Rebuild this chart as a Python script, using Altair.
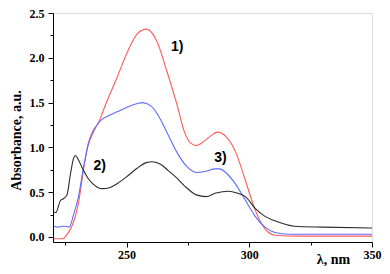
import altair as alt
import pandas as pd

# --- data ---
red_wl = [220.4, 222, 224, 225.5, 227.7, 229, 230.4, 232.4, 234.4, 236.4, 238.4, 241.6, 246.4,
          250.4, 254.4, 258, 262.4, 266.4, 270.4, 273.6, 276, 278.4, 283, 287, 290.5, 294.4,
          298.4, 302.4, 306.4, 310.4, 320, 350]
red_ab = [-0.02, -0.02, -0.02, 0.02, 0.12, 0.22, 0.38, 0.75, 1.05, 1.19, 1.27, 1.49, 1.80,
          2.07, 2.27, 2.32, 2.18, 1.85, 1.49, 1.17, 1.05, 1.02, 1.10, 1.17, 1.12, 0.95,
          0.63, 0.30, 0.09, 0.02, 0.01, 0.01]

blue_wl = [220.4, 222, 224, 225.5, 226.6, 228.4, 230.4, 232.4, 234.4, 236.4, 238.4, 242.4, 246.4,
           250.4, 254.4, 256.4, 260, 263, 266.4, 270.4, 274.4, 278.4, 282, 286, 288, 290.4,
           294.4, 298.4, 302.4, 306.4, 310.4, 316, 350]
blue_ab = [0.12, 0.11, 0.12, 0.12, 0.11, 0.25, 0.45, 0.77, 1.03, 1.17, 1.27, 1.35, 1.40,
           1.45, 1.49, 1.50, 1.46, 1.35, 1.17, 0.95, 0.79, 0.72, 0.73, 0.76, 0.76, 0.72,
           0.59, 0.41, 0.23, 0.11, 0.05, 0.03, 0.03]

black_wl = [220.4, 221.1, 223.1, 224.4, 225.7, 227.1, 228.4, 229.1, 230.4, 231.6, 234.4, 236.4,
            238.4, 240, 243, 246.4, 250.4, 254.4, 258, 260.5, 264, 267, 270.4, 274, 278.4,
            282.4, 286.4, 291.6, 295, 298.4, 302.4, 306.4, 310.4, 318.4, 330, 350]
black_ab = [0.28, 0.27, 0.41, 0.43, 0.47, 0.70, 0.88, 0.91, 0.86, 0.79, 0.65, 0.59,
            0.55, 0.54, 0.55, 0.60, 0.68, 0.77, 0.83, 0.84, 0.81, 0.74, 0.66, 0.56, 0.47,
            0.45, 0.49, 0.51, 0.49, 0.45, 0.32, 0.23, 0.18, 0.12, 0.11, 0.10]

series_names = ["1)", "3)", "2)"]
series_colors = ["#ff5a5a", "#5c6cff", "#2b2b2b"]

label_text = ["1)", "2)", "3)"]
label_wl = [270.6, 239.0, 288.2]
label_ab = [2.12, 0.79, 0.88]

x_major = [250, 300, 350]
x_minor = [225, 275, 325]
y_major = [0.0, 0.5, 1.0, 1.5, 2.0, 2.5]
y_minor = [0.25, 0.75, 1.25, 1.75, 2.25]

rows = []
for name, wl, ab in zip(series_names, [red_wl, blue_wl, black_wl], [red_ab, blue_ab, black_ab]):
    for w, a in zip(wl, ab):
        rows.append({"series": name, "wl": w, "abs": a})
df = pd.DataFrame(rows)
lab = pd.DataFrame({"t": label_text, "wl": label_wl, "abs": label_ab})

xs = alt.Scale(domain=[220, 350], nice=False, zero=False)
ys = alt.Scale(domain=[-0.056, 2.5], nice=False, zero=False)

serif = "Liberation Serif"

x_axis_major = alt.Axis(values=x_major, tickSize=5, labelFont=serif, labelFontWeight="bold",
                        labelFontSize=12, labelPadding=2, labelColor="black", grid=False,
                        domainColor="black", tickColor="black", orient="bottom",
                        title="λ, nm", titleFont=serif, titleFontWeight="bold", titleFontSize=14,
                        titleColor="black", titleX=280, titleY=17, titleAlign="center",
                        titleBaseline="middle", labelFlush=False)
y_axis_major = alt.Axis(values=y_major, format=".1f", tickSize=5, labelFont=serif,
                        labelFontWeight="bold", labelFontSize=12, labelPadding=4,
                        labelColor="black", grid=False, domainColor="black", tickColor="black",
                        orient="left", title="Absorbance, a.u.", titleFont=serif,
                        titleFontWeight="bold", titleFontSize=14, titleColor="black",
                        titleX=-37, titleY=127, titleAlign="center", titleBaseline="middle",
                        labelFlush=False)
x_axis_minor = alt.Axis(values=x_minor, tickSize=3, labels=False, domain=False, grid=False,
                        tickColor="black", orient="bottom", title=None)
y_axis_minor = alt.Axis(values=y_minor, tickSize=3, labels=False, domain=False, grid=False,
                        tickColor="black", orient="left", title=None)

lines = alt.Chart(df).mark_line(strokeWidth=1.1, interpolate="monotone").encode(
    x=alt.X("wl:Q", scale=xs, axis=x_axis_major),
    y=alt.Y("abs:Q", scale=ys, axis=y_axis_major),
    color=alt.Color("series:N", scale=alt.Scale(domain=series_names, range=series_colors),
                    legend=None),
)

texts = alt.Chart(lab).mark_text(font="Liberation Sans", fontWeight="bold", fontSize=14,
                                 align="center", baseline="middle", color="black").encode(
    x=alt.X("wl:Q", scale=xs, axis=x_axis_minor),
    y=alt.Y("abs:Q", scale=ys, axis=y_axis_minor),
    text="t:N",
)

chart = alt.layer(lines, texts).resolve_axis(x="independent", y="independent").properties(
    width=319, height=229,
    autosize=alt.AutoSizeParams(type="none"),
    padding={"left": 45, "top": 5, "right": 10, "bottom": 24},
).configure_view(stroke=None).configure(background="white")

chart.save("out.html", embed_options={"renderer": "svg", "actions": False})
